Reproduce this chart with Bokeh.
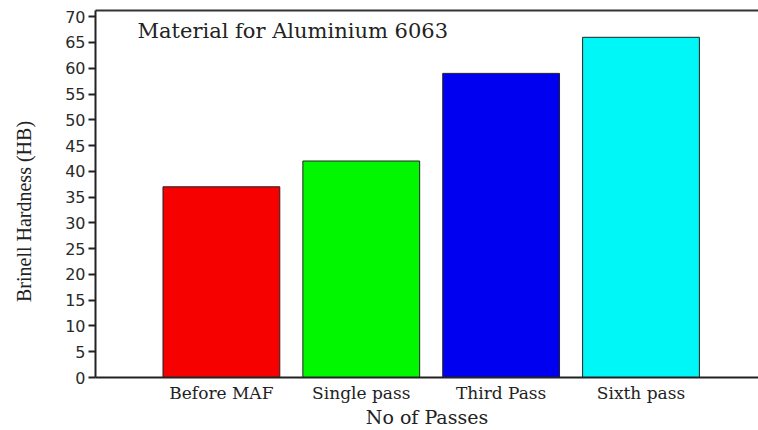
from bokeh.plotting import figure
from bokeh.models import Range1d, LinearAxis, FixedTicker, Label
from bokeh.embed import file_html
from bokeh.resources import INLINE

categories = ["Before MAF", "Single pass", "Third Pass", "Sixth pass"]
hardness = [37, 42, 59, 66]
colors = ["#f70000", "#00f700", "#0000f0", "#00f7f7"]
y_ticks = list(range(0, 75, 5))
positions = [1, 2, 3, 4]

p = figure(width=758, height=430, output_backend="svg", toolbar_location=None,
           x_range=Range1d(0.1, 4.84), y_range=Range1d(0, 71.2),
           min_border_left=95, min_border_right=0, min_border_top=10, min_border_bottom=52,
           x_axis_type=None, y_axis_type=None)
p.outline_line_color = None
p.grid.visible = False
p.background_fill_color = "white"
p.border_fill_color = "white"

p.vbar(x=positions, top=hardness, bottom=0, width=0.835, fill_color=colors,
       line_color="#222222", line_width=1)

yaxis = LinearAxis(ticker=FixedTicker(ticks=y_ticks))
yaxis.axis_label = "Brinell Hardness (HB)" + "\u00a0" * 7
yaxis.axis_label_text_font = "Liberation Serif"
yaxis.axis_label_text_font_style = "normal"
yaxis.axis_label_text_font_size = "20px"
yaxis.axis_label_text_color = "#222222"
yaxis.axis_label_standoff = 27
yaxis.major_label_text_font = "DejaVu Sans"
yaxis.major_label_text_font_size = "16px"
yaxis.major_label_text_color = "#2a2a2a"
yaxis.major_label_standoff = 3
yaxis.major_tick_out = 7
yaxis.major_tick_in = 0
yaxis.minor_tick_out = 0
yaxis.minor_tick_in = 0
yaxis.axis_line_width = 2
yaxis.axis_line_color = "#222222"
yaxis.major_tick_line_width = 2
yaxis.major_tick_line_color = "#222222"
p.add_layout(yaxis, "left")

xaxis = LinearAxis(ticker=FixedTicker(ticks=positions))
xaxis.major_label_overrides = {pos: cat for pos, cat in zip(positions, categories)}
xaxis.axis_label = "No of Passes"
xaxis.axis_label_text_font = "DejaVu Serif"
xaxis.axis_label_text_font_style = "normal"
xaxis.axis_label_text_font_size = "19px"
xaxis.axis_label_text_color = "#222222"
xaxis.axis_label_standoff = 0
xaxis.major_label_text_font = "DejaVu Serif"
xaxis.major_label_text_font_size = "17px"
xaxis.major_label_text_color = "#222222"
xaxis.major_label_standoff = 5
xaxis.major_tick_out = 0
xaxis.major_tick_in = 0
xaxis.minor_tick_out = 0
xaxis.minor_tick_in = 0
xaxis.axis_line_width = 2
xaxis.axis_line_color = "#222222"
p.add_layout(xaxis, "below")

top_axis = LinearAxis(ticker=FixedTicker(ticks=[]))
top_axis.major_label_text_font_size = "0px"
top_axis.major_tick_out = 0
top_axis.minor_tick_out = 0
top_axis.axis_line_width = 2
top_axis.axis_line_color = "#333333"
p.add_layout(top_axis, "above")

title = Label(x=42, y=71.2 - 4.05, x_units="screen", text="Material for Aluminium 6063",
              text_font="DejaVu Serif", text_font_size="21px", text_color="#222222",
              text_baseline="middle", text_align="left")
p.add_layout(title)

open("out.html", "w").write(file_html(p, INLINE))
